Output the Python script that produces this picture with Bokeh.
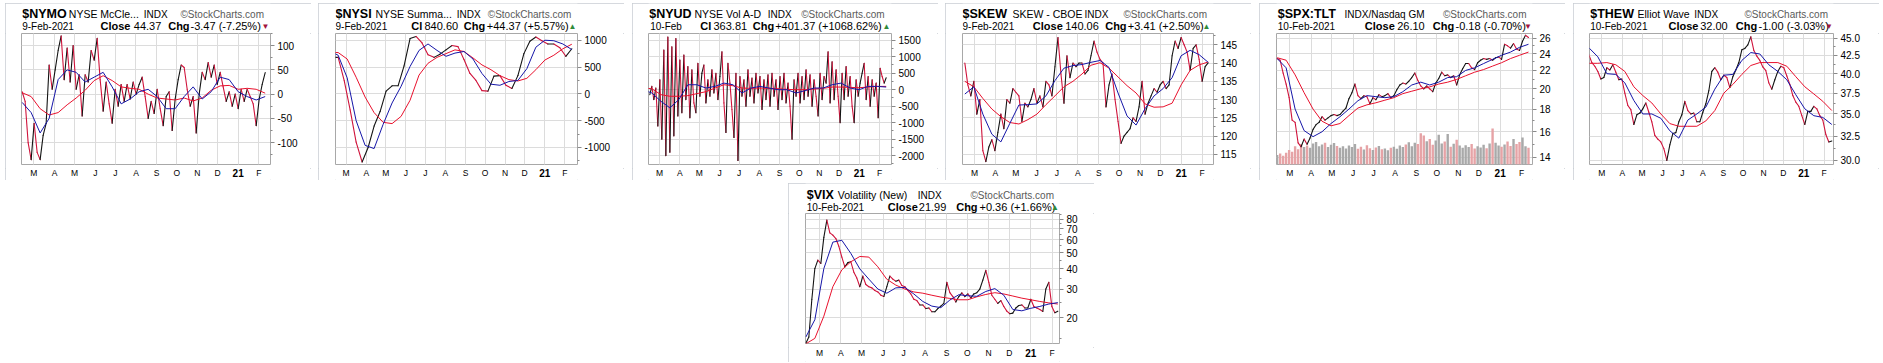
import pandas as pd
from bokeh.plotting import figure
from bokeh.models import (Range1d, FixedTicker, PrintfTickFormatter, Grid,
                          ColumnDataSource, LinearScale, Spacer)
from bokeh.core.properties import value
from bokeh.layouts import row, column
from bokeh.embed import file_html
from bokeh.resources import INLINE

# ---------------- data ----------------
month_starts = pd.date_range("2020-03-01", "2021-02-01", freq="MS")
month_letters = ["", "F", "M", "A", "M", "J", "J", "A", "S", "O", "N", "D"]  # by calendar month
year_label = ("2021-01-01", "21")

# $NYMO
nymo_dates = ("2020-02-12 12:00", "2021-02-10 12:00")
nymo = [5, -15, -100, -135, -60, -120, -135, -85, -60, 60,
        10, 50, 90, 120, 30, 95, 25, 100, 10, 40,
        -45, 40, 25, 90, 70, 115, 30, -35, 25, -20,
        -60, 10, -25, 20, -15, 20, -10, 25, 0, 20,
        35, -5, -50, -15, -40, 10, -30, -65, -5, 5,
        -75, -10, 30, 60, 55, 10, -25, -5, -80, 0,
        45, 30, 65, 35, 60, 20, 45, 15, -15, 5,
        -25, 0, -30, 10, -15, 10, -5, -20, -65, -10,
        20, 44.37]
nymo_ma_dates = ("2020-02-12 12:00", "2021-02-10 12:00")
nymo_fast = [-17, -38, -80, -50, 30, 50, 45, 25, 35, 45, 15, -20, -10, 5, 10, -5, -30, -30, -5, 15,
             -10, 5, 35, 30, 5, -5, -12, -5]
nymo_slow = [3, -5, -30, -43, -38, -22, -8, 8, 28, 38, 28, 15, 12, 10, 0, -8, -10, -12, -8, -14,
             -8, 8, 17, 18, 10, 12, 10, 2]

# $NYSI
nysi_dates = ("2020-02-08 11:00", "2021-02-11 18:00")
nysi = [680, 680, 250, -300, -900, -1270, -1000, -600, -330, 50,
        150, 150, 520, 1030, 1070, 950, 730, 680, 740, 820,
        900, 880, 640, 380, 250, 60, 50, 330, 340, 160,
        100, 340, 750, 980, 1060, 990, 930, 930, 860, 700, 840.6]
nysi_ma_dates = ("2020-02-03 20:00", "2021-02-11 18:00")
nysi_fast = [800, 720, 300, -500, -960, -1020, -570, -170, 140, 510, 810, 930, 810, 700, 760, 790,
             650, 380, 180, 160, 230, 250, 470, 870, 1000, 990, 930, 825]
nysi_slow = [770, 770, 650, 310, -60, -350, -530, -555, -420, -120, 350, 570, 680, 750, 820, 790,
             670, 540, 450, 340, 265, 240, 290, 450, 630, 720, 840, 925]

# $NYUD
nyud_dates = ("2020-02-15 04:00", "2021-02-11 06:00")
nyud = [-150, 100, -300, 50, -1100, 300, -1500, 1200, -2000, 1600,
        -1900, 1300, -1400, 1550, -800, 900, -700, 1050, -300, 700,
        -850, 600, -400, -700, 800, -200, 500, 750, -400, 300,
        -200, 600, -100, 500, -300, 400, 1150, -400, -1300, 800,
        200, -600, -1450, 500, -2150, 400, -200, 300, -500, 600,
        -200, 350, -400, 500, -100, 400, -600, 300, -300, 450,
        -500, 500, -200, 300, -600, 400, -300, 500, -400, 200,
        -500, -1500, 300, -200, 500, -400, 400, -300, 600, -200,
        450, -500, 300, -200, -800, 500, -300, 400, 200, 1150,
        -400, 850, -300, 600, -200, -1000, 500, -300, 700, -200,
        400, -500, -1000, 300, -200, 200, 500, 800, -300, 400,
        -500, 300, -200, 200, -850, 650, 400, 200, 363.81]
nyud_ma_dates = ("2020-02-04 10:00", "2021-02-11 06:00")
nyud_fast = [0, -100, -350, -550, -300, 150, 150, 50, 100, 200, 150, -100, 50, 100, 50, 0, 0, -100,
             -30, 50, 50, 150, 200, 50, 0, 100, 100, 80]
nyud_slow = [50, 30, -150, -200, -200, -180, -120, -60, 50, 150, 120, 50, 40, 50, 40, 30, 10, 0,
             0, 20, 40, 80, 80, 70, 60, 80, 100, 100]

# $SKEW
skew_dates = ("2020-02-15 16:00", "2021-02-09 21:00")
skew = [140, 134, 131, 135, 126, 130, 116, 113, 117, 119,
        116, 121, 126, 122, 130, 129, 133, 132, 131, 124,
        129, 128, 130, 133, 129, 131, 128, 135, 134, 131,
        139, 147, 137, 129, 142, 136, 140, 139, 140, 140,
        137, 138, 142, 146, 143, 141, 140, 128, 134, 137,
        130, 124, 118, 120, 121, 122, 125, 124, 128, 135,
        126, 129, 131, 133, 132, 134, 135, 133, 134, 142,
        146, 144, 147, 145, 143, 138, 144, 145, 141, 135,
        139, 140.06]
skew_ma_dates = ("2020-02-15 16:00", "2021-02-09 21:00")
skew_fast = [131.5, 133.5, 126, 120.5, 118.4, 123.5, 128.5, 128.6, 128.8, 131, 135.2, 138.6, 139.3,
             139.6, 140.2, 140.7, 138.8, 131.8, 125.5, 123, 127.5, 131, 133, 136, 142, 143.5, 142.3, 140.2]
skew_slow = [135, 133.5, 130.3, 127.4, 125.3, 123.7, 123.3, 124.5, 126, 128.6, 131, 133.5, 135, 137,
             139.4, 140.1, 138.6, 136.2, 133.8, 131.8, 128.8, 127.9, 128, 129, 134, 138, 139.5, 140.3]

# $SPX:TLT
spx_dates = ("2020-02-11 15:00", "2021-02-11 04:00")
spx = [23.4, 23.2, 21.7, 20.5, 19.1, 17.0, 16.8, 15.1, 14.8, 15.4,
       15.0, 15.5, 16.2, 16.6, 16.8, 17.3, 17.0, 17.2, 17.4, 17.5,
       17.4, 17.5, 17.8, 18.1, 19.0, 19.6, 20.5, 19.3, 19.0, 19.3,
       19.2, 18.5, 19.1, 18.9, 19.4, 19.2, 19.3, 19.5, 19.1, 19.3,
       19.9, 20.4, 20.6, 20.5, 20.8, 21.2, 21.7, 20.9, 20.3, 20.0,
       20.3, 20.0, 19.7, 20.6, 21.1, 21.8, 21.4, 21.5, 21.2, 21.4,
       20.4, 21.5, 22.2, 22.8, 22.8, 22.3, 22.1, 22.9, 23.2, 23.4,
       23.3, 23.4, 23.2, 23.5, 23.6, 23.3, 25.2, 25.0, 24.7, 25.3,
       24.6, 24.4, 25.6, 26.4, 26.1]
spx_volume = [2.6, 3.0, 2.4, 3.2,
              4.0, 3.5, 5.0, 4.2, 5.6,
              4.8, 5.2, 4.6, 5.8, 6.2, 5.0, 5.5, 6.0, 4.8, 5.4, 5.9, 5.1,
              4.6, 5.0, 4.4, 5.2, 4.8, 5.6, 4.3, 4.9, 4.1, 5.3, 4.5,
              4.0, 4.7, 5.1, 4.2, 4.4, 3.9, 4.6, 4.9, 4.3, 5.2, 4.8,
              5.5, 6.1, 5.0, 6.0, 5.6, 8.6, 8.0, 6.4,
              7.0, 5.4, 6.6, 8.2, 5.8, 6.3, 8.4, 4.9, 5.7, 6.8, 5.2,
              4.6, 5.3, 4.8, 5.6, 4.4, 5.0, 4.7, 5.4, 4.5,
              5.8, 9.9, 6.0, 5.2, 4.9, 5.5, 6.3, 5.1, 7.0, 5.6, 6.2, 7.4, 5.0, 4.6]
spx_ma_dates = ("2020-02-11 15:00", "2021-02-11 04:00")
spx_fast = [23.4, 22.3, 18.0, 16.1, 15.6, 16.0, 16.7, 17.3, 18.0, 18.8, 19.3, 19.2, 19.1, 19.2, 19.7,
            20.4, 20.7, 20.4, 20.7, 21.2, 21.3, 22.0, 22.3, 22.8, 23.3, 23.8, 24.2, 24.8, 25.2]
spx_slow = [23.5, 23.2, 21.5, 19.6, 18.0, 16.9, 16.5, 16.7, 17.4, 18.1, 18.4, 18.6, 18.85, 19.1, 19.5,
            19.75, 20.0, 20.2, 20.5, 20.7, 21.0, 21.4, 21.8, 22.1, 22.5, 22.9, 23.4, 23.8, 24.2]

# $THEW
thew_dates = ("2020-02-10 07:00", "2021-02-12 15:00")
thew = [42.6, 41.5, 41.0, 40.3, 39.3, 39.5, 40.8, 40.5, 41.2, 40.2,
        39.2, 39.3, 37.5, 36.0, 35.5, 33.8, 34.9, 35.1, 35.6, 36.3,
        35.2, 34.1, 32.6, 32.2, 31.9, 31.2, 30.0, 31.6, 32.8, 32.9,
        34.1, 34.9, 36.5, 35.4, 35.0, 35.1, 34.1, 34.1, 35.2, 36.2,
        37.8, 40.3, 40.8, 40.2, 39.2, 39.8, 39.5, 38.2, 39.6, 40.5,
        41.5, 43.3, 43.5, 44.0, 45.2, 43.2, 42.4, 41.8, 40.9, 40.4,
        38.8, 38.0, 39.2, 40.3, 41.0, 40.8, 39.7, 38.6, 37.2, 36.4,
        35.9, 34.8, 33.8, 35.3, 35.3, 35.9, 35.6, 34.8, 34.3, 32.7,
        31.9, 32.0]
thew_ma_dates = ("2020-02-10 07:00", "2021-02-12 15:00")
thew_fast = [43.6, 42.3, 40.0, 39.9, 38.8, 36.6, 35.0, 35.0, 34.5, 33.1, 32.3, 34.3, 35.0, 35.8,
             38.0, 39.8, 39.9, 41.8, 42.9, 42.7, 41.2, 40.3, 39.2, 37.3, 35.6, 34.8, 34.6, 33.8]
thew_slow = [41.4, 41.4, 41.5, 41.2, 40.3, 38.3, 37.2, 36.3, 35.0, 33.9, 33.6, 33.6, 33.6, 34.2,
             35.4, 37.5, 38.6, 39.9, 41.1, 41.5, 41.5, 41.5, 41.0, 39.6, 38.3, 37.4, 36.5, 35.4]

# $VIX
vix_dates = ("2020-02-10 05:00", "2021-02-09 05:00")
vix = [14.0, 15.3, 26.0, 40.0, 45.0, 43.0, 62.0, 79.0, 66.0, 64.0,
       61.0, 54.7, 47.0, 41.0, 43.5, 44.0, 38.0, 35.0, 31.0, 36.0,
       32.0, 31.0, 30.5, 29.4, 28.8, 27.5, 27.0, 31.0, 36.0, 34.5,
       33.5, 34.0, 31.5, 31.0, 29.4, 28.0, 26.0, 25.5, 24.0, 24.0,
       22.8, 23.0, 21.8, 21.8, 22.8, 23.6, 24.5, 33.0, 28.5, 27.0,
       25.0, 27.0, 28.4, 27.0, 28.0, 26.5, 28.0, 28.5, 30.0, 34.0,
       39.0, 33.0, 27.5, 26.0, 24.5, 25.5, 23.5, 22.0, 21.2, 21.4,
       23.0, 23.8, 24.0, 23.0, 23.0, 26.0, 23.5, 23.0, 22.5, 21.9,
       30.0, 33.0, 23.5, 21.5, 21.99]
vix_ma_dates = ("2020-02-10 05:00", "2021-02-09 05:00")
vix_fast = [15.3, 19.5, 40.0, 58.0, 59.5, 49.5, 39.8, 34.5, 30.0, 28.3, 30.5, 30.7, 28.0, 25.2, 23.6,
            23.1, 25.7, 27.7, 27.3, 27.1, 29.0, 30.2, 27.5, 22.5, 22.1, 22.9, 23.5, 24.3, 24.8]
vix_slow = [13.9, 15.0, 20.5, 31.0, 39.3, 44.0, 47.4, 47.0, 41.0, 34.4, 31.7, 30.0, 28.8, 28.3, 27.5,
            26.8, 26.3, 25.8, 25.8, 26.9, 27.8, 28.5, 28.0, 27.2, 26.4, 25.8, 25.2, 24.7, 24.3]

# ---------------- styling ----------------
FONT = "Liberation Sans"
UP, DOWN = "#141414", "#d0143c"
FAST, SLOW = "#1616a8", "#e8112d"
VOL_UP, VOL_DN = "#a9a9a9", "#e6a3a6"
GRID = "#dcdcdc"
month_ms = [t.value / 1e6 for t in month_starts]
MID = 0.36  # text 'middle' anchor sits this fraction of the font size above the baseline

KINDS = {
    "sym": dict(size=12.5, style="bold", color="#000000"),
    "desc": dict(size=10.5, style="normal", color="#000000"),
    "indx": dict(size=10, style="normal", color="#000000"),
    "sc": dict(size=10, style="normal", color="#5a5a5a"),
    "date": dict(size=10, style="normal", color="#000000"),
    "key": dict(size=11, style="bold", color="#000000"),
    "val": dict(size=11, style="normal", color="#000000"),
    "up": dict(size=8, style="normal", color="#2e8b3a"),
    "dn": dict(size=8, style="normal", color="#a3143c"),
}
HEAD_H = 30


def blank_fig(**kw):
    f = figure(toolbar_location=None, output_backend="svg", x_axis_location=None,
               y_axis_location=None, background_fill_color="white", border_fill_color="white", **kw)
    f.outline_line_color = None
    f.grid.visible = False
    return f


def put_text(f, x, baseline, text, size, style="normal", color="#000000", align="left"):
    f.text(x=x, y=[baseline - MID * size] * len(text), text=text, text_font=value(FONT),
           text_font_size=value(f"{size}px"), text_font_style=value(style),
           text_color=color, text_baseline="middle", text_align=align)


def header(cfg):
    # frame of the header matches the chart frame; x measured in px from the frame's left edge
    f = blank_fig(width=306, height=HEAD_H, x_range=Range1d(0, cfg["w"]), y_range=Range1d(HEAD_H, 0),
                  min_border_left=cfg["bl"], min_border_right=306 - cfg["bl"] - cfg["w"],
                  min_border_top=0, min_border_bottom=0)
    b1, b2 = cfg.get("heads", (14.5, 26.3))
    for items, base in ((cfg["line1"], b1), (cfg["line2"], b2)):
        for text, dx, kind in items:
            k = KINDS[kind]
            if kind in ("up", "dn"):
                f.text(x=[dx], y=[base - 3], text=[text], text_font=value(FONT),
                       text_font_size=value(f"{k['size']}px"), text_color=k["color"],
                       text_baseline="middle", text_align="center")
            else:
                put_text(f, [dx], base, [text], k["size"], k["style"], k["color"])
    return f


def footer(cfg, xr, h, base):
    f = blank_fig(width=306, height=h, x_range=xr, y_range=Range1d(h, 0), x_axis_type="datetime",
                  min_border_left=cfg["bl"], min_border_right=306 - cfg["bl"] - cfg["w"],
                  min_border_top=0, min_border_bottom=0)
    xs = [t for t in month_starts if month_letters[t.month - 1]]
    put_text(f, xs, base, [month_letters[t.month - 1] for t in xs], 8.5, align="center")
    put_text(f, [pd.Timestamp(year_label[0])], base, [year_label[1]], 10, "bold", align="center")
    return f


def chart(cfg):
    fh = cfg.get("fh", 131)
    p = figure(width=306, height=fh + 4, x_axis_type="datetime", y_axis_type=cfg.get("ytype", "linear"),
               x_axis_location=None, y_axis_location="right",
               x_range=Range1d(pd.Timestamp(cfg["xr"][0]), pd.Timestamp(cfg["xr"][1])),
               y_range=Range1d(*cfg["yr"]),
               toolbar_location=None, output_backend="svg",
               min_border_left=cfg["bl"], min_border_right=306 - cfg["bl"] - cfg["w"],
               min_border_top=0, min_border_bottom=4,
               background_fill_color="white", border_fill_color="white")
    p.outline_line_color = "#a8a8a8"
    p.add_layout(Grid(dimension=0, ticker=FixedTicker(ticks=month_ms), grid_line_color=GRID))
    p.ygrid.grid_line_color = GRID

    p.yaxis.ticker = FixedTicker(ticks=cfg["yticks"], minor_ticks=cfg["yminor"])
    p.yaxis.formatter = PrintfTickFormatter(format=cfg.get("yfmt", "%d"))
    p.yaxis.major_label_text_font = FONT
    p.yaxis.major_label_text_font_size = "10px"
    p.yaxis.major_label_text_color = "#000000"
    p.yaxis.major_tick_out = 4
    p.yaxis.major_tick_in = 0
    p.yaxis.minor_tick_out = 2
    p.yaxis.minor_tick_in = 0
    p.yaxis.major_tick_line_color = "#8a8a8a"
    p.yaxis.minor_tick_line_color = "#8a8a8a"
    p.yaxis.axis_line_color = None
    p.yaxis.major_label_standoff = 3

    vals = cfg["price"]
    d = pd.date_range(*cfg["pd"], periods=len(vals))
    if "vol" in cfg:
        cols = [VOL_UP] + [VOL_UP if b >= a else VOL_DN for a, b in zip(vals[:-1], vals[1:])]
        p.extra_y_ranges = {"vol": Range1d(0, 36)}
        p.extra_y_scales = {"vol": LinearScale()}
        wd = (d[1] - d[0]).total_seconds() * 1000 * 0.8
        p.vbar(x=d, top=cfg["vol"], bottom=0, width=wd, y_range_name="vol",
               fill_color=cols, line_color=None)

    src = ColumnDataSource(dict(x0=d[:-1], x1=d[1:], y0=vals[:-1], y1=vals[1:],
                                c=[UP if b >= a else DOWN for a, b in zip(vals[:-1], vals[1:])]))
    p.segment("x0", "y0", "x1", "y1", source=src, line_color="c", line_width=1.1, line_cap="round")

    dm = pd.date_range(*cfg["md"], periods=len(cfg["slow"]))
    p.line(dm, cfg["slow"], line_color=SLOW, line_width=1.0)
    dm = pd.date_range(*cfg["md"], periods=len(cfg["fast"]))
    p.line(dm, cfg["fast"], line_color=FAST, line_width=1.0)
    return p


def panel(cfg):
    total = cfg.get("height", 177)
    c = chart(cfg)
    fh = cfg.get("fh", 131)
    foot_h = total - HEAD_H - (fh + 4)
    f = footer(cfg, c.x_range, foot_h, cfg.get("xbase", 11.7) - 4)
    return column(header(cfg), c, f, spacing=0,
                  styles={"outline": "1px solid #c8cdd3", "outline-offset": "-1px"})


panels = [
    dict(price=nymo, pd=nymo_dates, fast=nymo_fast, slow=nymo_slow, md=nymo_ma_dates,
         xr=("2020-02-11 13:00", "2021-02-18 11:00"), yr=(-145, 125),
         yticks=[-100, -50, 0, 50, 100], yminor=[-125, -75, -25, 25, 75, 125], bl=16, w=249,
         line1=[("$NYMO", 0.7, "sym"), ("NYSE McCle...", 47.3, "desc"), ("INDX", 122.3, "indx"),
                ("\u00a9StockCharts.com", 159, "sc")],
         line2=[("9-Feb-2021", 0.7, "date"), ("Close", 79, "key"), ("44.37", 112.3, "val"),
                ("Chg", 146.7, "key"), ("-3.47 (-7.25%)", 169, "val"), ("\u25bc", 244, "dn")]),
    dict(price=nysi, pd=nysi_dates, fast=nysi_fast, slow=nysi_slow, md=nysi_ma_dates,
         xr=("2020-02-13 14:00", "2021-02-20 12:00"), yr=(-1317, 1125),
         yticks=[-1000, -500, 0, 500, 1000], yminor=[-1250, -750, -250, 250, 750], bl=17, w=242,
         line1=[("$NYSI", 0, "sym"), ("NYSE Summa...", 40, "desc"), ("INDX", 121.3, "indx"),
                ("\u00a9StockCharts.com", 152.3, "sc")],
         line2=[("9-Feb-2021", 0, "date"), ("Cl", 75.7, "key"), ("840.60", 89, "val"),
                ("Chg", 128.3, "key"), ("+44.37 (+5.57%)", 151.3, "val"), ("\u25b2", 237, "up")]),
    dict(price=nyud, pd=nyud_dates, fast=nyud_fast, slow=nyud_slow, md=nyud_ma_dates,
         xr=("2020-02-13 03:00", "2021-02-19 10:00"), yr=(-2270, 1705),
         yticks=[-2000, -1500, -1000, -500, 0, 500, 1000, 1500],
         yminor=[-2250, -1750, -1250, -750, -250, 250, 750, 1250], bl=16, w=243,
         line1=[("$NYUD", 0.7, "sym"), ("NYSE Vol A-D", 46, "desc"), ("INDX", 119.3, "indx"),
                ("\u00a9StockCharts.com", 152.7, "sc")],
         line2=[("10-Feb", 1.7, "date"), ("Cl", 51.7, "key"), ("363.81", 65, "val"),
                ("Chg", 104.3, "key"), ("+401.37 (+1068.62%)", 126.7, "val"), ("\u25b2", 238, "up")]),
    dict(price=skew, pd=skew_dates, fast=skew_fast, slow=skew_slow, md=skew_ma_dates,
         xr=("2020-02-12 05:00", "2021-02-17 19:00"), yr=(112.2, 148.1),
         yticks=[115, 120, 125, 130, 135, 140, 145], yminor=[117.5, 122.5, 127.5, 132.5, 137.5, 142.5, 147.5],
         bl=17, w=251,
         line1=[("$SKEW", 0, "sym"), ("SKEW - CBOE", 50, "desc"), ("INDX", 122, "indx"),
                ("\u00a9StockCharts.com", 161, "sc")],
         line2=[("9-Feb-2021", 0, "date"), ("Close", 70.3, "key"), ("140.06", 102.7, "val"),
                ("Chg", 142.7, "key"), ("+3.41 (+2.50%)", 165.3, "val"), ("\u25b2", 244, "up")]),
    dict(price=spx, pd=spx_dates, fast=spx_fast, slow=spx_slow, md=spx_ma_dates, vol=spx_volume,
         xr=("2020-02-10 16:00", "2021-02-17 00:00"), yr=(13.5, 26.65), ytype="log",
         yticks=[14, 16, 18, 20, 22, 24, 26], yminor=[15, 17, 19, 21, 23, 25], bl=17, w=256,
         line1=[("$SPX:TLT", 1.3, "sym"), ("INDX/Nasdaq GM", 68, "indx"),
                ("\u00a9StockCharts.com", 166.5, "sc")],
         line2=[("10-Feb-2021", 1.3, "date"), ("Close", 88.3, "key"), ("26.10", 120.7, "val"),
                ("Chg", 156.3, "key"), ("-0.18 (-0.70%)", 179, "val"), ("\u25bc", 251.5, "dn")]),
    dict(price=thew, pd=thew_dates, fast=thew_fast, slow=thew_slow, md=thew_ma_dates,
         xr=("2020-02-11 07:00", "2021-02-15 04:00"), yr=(29.6, 45.7), ytype="log", yfmt="%.1f",
         yticks=[30, 32.5, 35, 37.5, 40, 42.5, 45], yminor=[31.25, 33.75, 36.25, 38.75, 41.25, 43.75],
         bl=16, w=244,
         line1=[("$THEW", 0.7, "sym"), ("Elliot Wave", 48, "desc"), ("INDX", 104.7, "indx"),
                ("\u00a9StockCharts.com", 155, "sc")],
         line2=[("10-Feb-2021", 0.7, "date"), ("Close", 79, "key"), ("32.00", 110.7, "val"),
                ("Chg", 146.3, "key"), ("-1.00 (-3.03%)", 169, "val"), ("\u25bc", 239.5, "dn")]),
]

vix_panel = dict(price=vix, pd=vix_dates, fast=vix_fast, slow=vix_slow, md=vix_ma_dates,
                 xr=("2020-02-09 17:00", "2021-02-11 15:00"), yr=(13.96, 86.7), ytype="log",
                 yticks=[20, 30, 40, 50, 60, 70, 80], yminor=[15, 25, 35, 45, 55, 65, 75, 85],
                 bl=17, w=254, height=179, fh=130, xbase=13, heads=(15.5, 27.3),
                 line1=[("$VIX", 1.3, "sym"), ("Volatility (New)", 32.3, "desc"), ("INDX", 112.3, "indx"),
                        ("\u00a9StockCharts.com", 165, "sc")],
                 line2=[("10-Feb-2021", 1.3, "date"), ("Close", 82.3, "key"), ("21.99", 113.3, "val"),
                        ("Chg", 150.7, "key"), ("+0.36 (+1.66%)", 174, "val"), ("\u25b2", 249.5, "up")])

tops = [panel(c) for c in panels]
p7 = panel(vix_panel)

gaps = [7, 8, 7, 8, 8]
top_children = [tops[0]]
for g, f in zip(gaps, tops[1:]):
    top_children += [Spacer(width=g, height=177), f]

content = column(row(*top_children), Spacer(width=10, height=3),
                 row(Spacer(width=783, height=179), p7))
layout = column(Spacer(width=10, height=3), row(Spacer(width=5, height=359), content))

open("out.html", "w").write(file_html(layout, INLINE))
